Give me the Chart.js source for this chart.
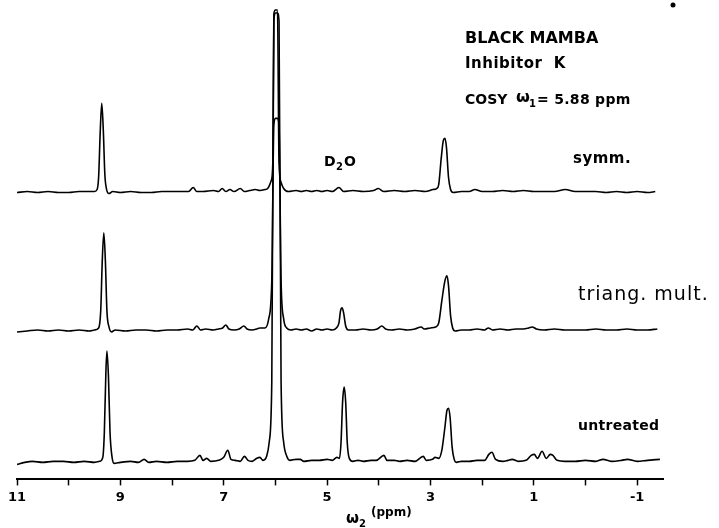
<!DOCTYPE html>
<html>
<head>
<meta charset="utf-8">
<script src="https://cdn.jsdelivr.net/npm/chart.js@4/dist/chart.umd.min.js"></script>
<style>
  html, body { margin: 0; padding: 0; background: #fff; }
  canvas { display: block; }
</style>
</head>
<body>
<canvas id="nmrChart" width="719" height="528"></canvas>
<script>
// omega2 axis ticks (ppm), labels only on odd values
const tickValues = [11, 10, 9, 8, 7, 6, 5, 4, 3, 2, 1, 0, -1];

// vertical offset of each trace above the axis
const traceNames = ['symm.', 'triang. mult.', 'untreated'];
const traceOffsets = [286, 148, 17];

// [ppm, intensity above baseline]
const symm = [
    [11.0, 0], [10.8, 1], [10.6, 0], [10.4, 1], [10.2, 0], [10.0, 0], [9.8, 1], [9.6, 1], [9.5, 1],
    [9.45, 3], [9.42, 16], [9.39, 60], [9.36, 89], [9.33, 62], [9.30, 18], [9.27, 4], [9.22, -1],
    [9.15, 1], [9.0, 0], [8.8, 1], [8.6, 0], [8.4, 0], [8.2, 1], [8.0, 1], [7.8, 1], [7.68, 1],
    [7.59, 5], [7.52, 1], [7.4, 1], [7.2, 2], [7.1, 1], [7.03, 4], [6.96, 1], [6.88, 3], [6.8, 1],
    [6.68, 4], [6.6, 1], [6.5, 2], [6.39, 3], [6.3, 2], [6.2, 3], [6.15, 4], [6.08, 12], [6.05, 30],
    [6.03, 178], [6.0, 182], [5.96, 182], [5.93, 30], [5.89, 10], [5.84, 4], [5.75, 1], [5.6, 2],
    [5.5, 1], [5.4, 2], [5.3, 1], [5.2, 2], [5.1, 1], [5.0, 2], [4.9, 1], [4.77, 5], [4.68, 1],
    [4.5, 2], [4.3, 1], [4.1, 2], [4.01, 4], [3.9, 1], [3.7, 2], [3.5, 1], [3.3, 2], [3.1, 1],
    [2.95, 3], [2.88, 4], [2.84, 8], [2.79, 35], [2.75, 52], [2.72, 54], [2.69, 45], [2.65, 15],
    [2.61, 3], [2.56, 0], [2.4, 1], [2.25, 1], [2.14, 3], [2.0, 1], [1.8, 1], [1.6, 2], [1.4, 1],
    [1.2, 2], [1.0, 1], [0.8, 1], [0.6, 1], [0.39, 3], [0.2, 1], [0.0, 1], [-0.2, 1], [-0.4, 0],
    [-0.6, 1], [-0.8, 0], [-1.0, 1], [-1.2, 0], [-1.35, 1]
];

const triang = [
    [11.0, -1], [10.8, 0], [10.6, 1], [10.4, 0], [10.2, 1], [10.0, 0], [9.8, 1], [9.6, 0], [9.5, 1],
    [9.42, 3], [9.38, 20], [9.35, 70], [9.32, 98], [9.29, 70], [9.26, 20], [9.22, 4], [9.17, -1],
    [9.1, 1], [8.9, 0], [8.7, 1], [8.5, 1], [8.3, 0], [8.1, 1], [7.9, 1], [7.7, 2], [7.6, 1],
    [7.52, 5], [7.45, 1], [7.35, 2], [7.2, 1], [7.1, 2], [7.02, 3], [6.96, 6], [6.9, 2], [6.8, 1],
    [6.7, 2], [6.61, 5], [6.55, 2], [6.45, 1], [6.36, 2], [6.30, 3], [6.2, 3], [6.13, 12], [6.07, 50],
    [6.03, 205], [6.0, 212], [5.96, 212], [5.93, 205], [5.89, 50], [5.84, 12], [5.78, 3], [5.7, 1],
    [5.6, 2], [5.5, 1], [5.4, 2], [5.3, 0], [5.2, 2], [5.1, 1], [5.0, 2], [4.9, 1], [4.82, 3],
    [4.77, 8], [4.74, 20], [4.71, 23], [4.68, 18], [4.64, 5], [4.59, 1], [4.45, 1], [4.3, 2],
    [4.15, 1], [4.03, 2], [3.94, 5], [3.87, 2], [3.75, 1], [3.6, 2], [3.45, 1], [3.3, 2], [3.18, 4],
    [3.12, 2], [3.0, 3], [2.9, 4], [2.84, 8], [2.78, 30], [2.72, 50], [2.68, 55], [2.65, 45],
    [2.61, 15], [2.57, 3], [2.52, 0], [2.4, 1], [2.25, 1], [2.1, 2], [1.95, 1], [1.88, 3], [1.8, 1],
    [1.65, 2], [1.5, 1], [1.35, 2], [1.2, 2], [1.1, 3], [1.03, 4], [0.95, 2], [0.8, 1], [0.6, 2],
    [0.4, 1], [0.2, 1], [0.0, 1], [-0.2, 2], [-0.4, 1], [-0.6, 1], [-0.8, 2], [-1.0, 1], [-1.2, 1],
    [-1.39, 2]
];

const untreated = [
    [11.0, -2], [10.85, 0], [10.7, 1], [10.5, 0], [10.3, 1], [10.1, 1], [9.9, 0], [9.7, 1], [9.5, 0],
    [9.4, 1], [9.34, 5], [9.31, 30], [9.28, 90], [9.26, 111], [9.23, 85], [9.20, 30], [9.16, 5],
    [9.12, -1], [9.0, 0], [8.8, 1], [8.65, 0], [8.54, 3], [8.45, 0], [8.3, 1], [8.1, 0], [7.9, 1],
    [7.7, 1], [7.56, 2], [7.46, 7], [7.40, 2], [7.33, 4], [7.25, 1], [7.1, 2], [7.0, 5], [6.92, 12],
    [6.86, 3], [6.78, 2], [6.68, 1], [6.6, 6], [6.53, 2], [6.45, 1], [6.36, 4], [6.30, 5], [6.24, 2],
    [6.17, 6], [6.12, 20], [6.07, 80], [6.03, 440], [6.0, 448], [5.96, 448], [5.93, 440], [5.89, 80],
    [5.84, 20], [5.78, 6], [5.72, 2], [5.6, 3], [5.52, 3], [5.45, 1], [5.3, 2], [5.15, 2], [5.0, 3],
    [4.9, 2], [4.81, 5], [4.76, 4], [4.73, 20], [4.70, 60], [4.67, 75], [4.64, 60], [4.61, 20],
    [4.57, 4], [4.5, 1], [4.4, 2], [4.3, 1], [4.15, 2], [4.05, 2], [3.9, 7], [3.84, 2], [3.7, 2],
    [3.6, 1], [3.45, 2], [3.3, 1], [3.14, 6], [3.08, 2], [2.96, 3], [2.91, 5], [2.84, 4], [2.78, 12],
    [2.72, 35], [2.68, 52], [2.65, 54], [2.62, 45], [2.58, 15], [2.54, 3], [2.5, 0], [2.4, 1],
    [2.25, 1], [2.1, 2], [1.95, 2], [1.87, 8], [1.81, 10], [1.74, 3], [1.6, 1], [1.5, 2], [1.42, 3],
    [1.3, 1], [1.15, 2], [1.05, 7], [0.99, 8], [0.93, 4], [0.84, 11], [0.76, 4], [0.68, 8], [0.63, 7],
    [0.55, 2], [0.4, 1], [0.2, 1], [0.0, 2], [-0.2, 1], [-0.34, 3], [-0.5, 1], [-0.7, 2], [-0.81, 3],
    [-1.0, 1], [-1.2, 2], [-1.44, 3]
];

const traces = [symm, triang, untreated];

Chart.defaults.font.family = "'DejaVu Sans', sans-serif";
Chart.defaults.color = '#000';

const annotations = {
    id: 'annotations',
    afterDraw(chart) {
        const ctx = chart.ctx;
        ctx.save();
        ctx.fillStyle = '#000';
        ctx.textBaseline = 'alphabetic';
        ctx.textAlign = 'left';

        const txt = (s, x, y, font, spacing) => {
            ctx.font = font;
            ctx.letterSpacing = (spacing || 0) + 'px';
            ctx.fillText(s, x, y);
        };

        // heading block
        txt('BLACK MAMBA', 465, 43, 'bold 16px DejaVu Sans', 0);
        txt('Inhibitor  K', 465, 68, 'bold 15px DejaVu Sans', 0.5);
        txt('COSY', 465, 104, 'bold 14px DejaVu Sans', 0);
        txt('ω', 516, 102, 'bold 16px DejaVu Sans', 0);
        txt('1', 529, 107, 'bold 10px DejaVu Sans', 0);
        txt('= 5.88 ppm', 537, 104, 'bold 14px DejaVu Sans', 0.3);

        // D2O marker
        txt('D', 324, 166, 'bold 14px DejaVu Sans', 0);
        txt('2', 336, 170, 'bold 10px DejaVu Sans', 0);
        txt('O', 344, 166, 'bold 14px DejaVu Sans', 0);

        // trace labels
        txt(traceNames[0], 573, 163, 'bold 15px DejaVu Sans', 0.5);
        txt(traceNames[1], 578, 300, '19px DejaVu Sans', 1);
        txt(traceNames[2], 578, 430, 'bold 14px DejaVu Sans', 0.3);

        // axis title
        txt('ω', 346, 523, 'bold 15px DejaVu Sans', 0);
        txt('2', 359, 527, 'bold 10px DejaVu Sans', 0);
        txt('(ppm)', 371, 516, 'bold 12px DejaVu Sans', 0);

        // stray dot from the original print
        ctx.beginPath();
        ctx.arc(673, 5, 2.5, 0, Math.PI * 2);
        ctx.fill();
        ctx.restore();
    }
};

new Chart(document.getElementById('nmrChart'), {
    type: 'line',
    data: {
        datasets: traces.map((tr, i) => ({
            label: traceNames[i],
            data: tr.map(p => ({ x: p[0], y: p[1] + traceOffsets[i] })),
            borderColor: '#000',
            borderWidth: 1.6,
            pointRadius: 0,
            fill: false,
            cubicInterpolationMode: 'monotone'
        }))
    },
    options: {
        responsive: false,
        animation: false,
        layout: { padding: { left: 17, right: 56, top: 0, bottom: 19 } },
        plugins: {
            legend: { display: false },
            tooltip: { enabled: false }
        },
        scales: {
            x: {
                type: 'linear',
                reverse: true,
                min: -1.5,
                max: 11,
                afterBuildTicks: scale => {
                    scale.ticks = tickValues.map(v => ({ value: v }));
                },
                ticks: {
                    autoSkip: false,
                    maxRotation: 0,
                    padding: 4,
                    font: { size: 13, weight: 'bold' },
                    callback: v => (v % 2 !== 0 ? String(v) : '')
                },
                grid: {
                    drawOnChartArea: false,
                    drawTicks: true,
                    tickLength: 6,
                    tickWidth: 1.5,
                    tickColor: '#000'
                },
                border: { display: true, color: '#000', width: 2 }
            },
            y: {
                display: false,
                min: 0,
                max: 478
            }
        }
    },
    plugins: [annotations]
});
</script>
</body>
</html>
